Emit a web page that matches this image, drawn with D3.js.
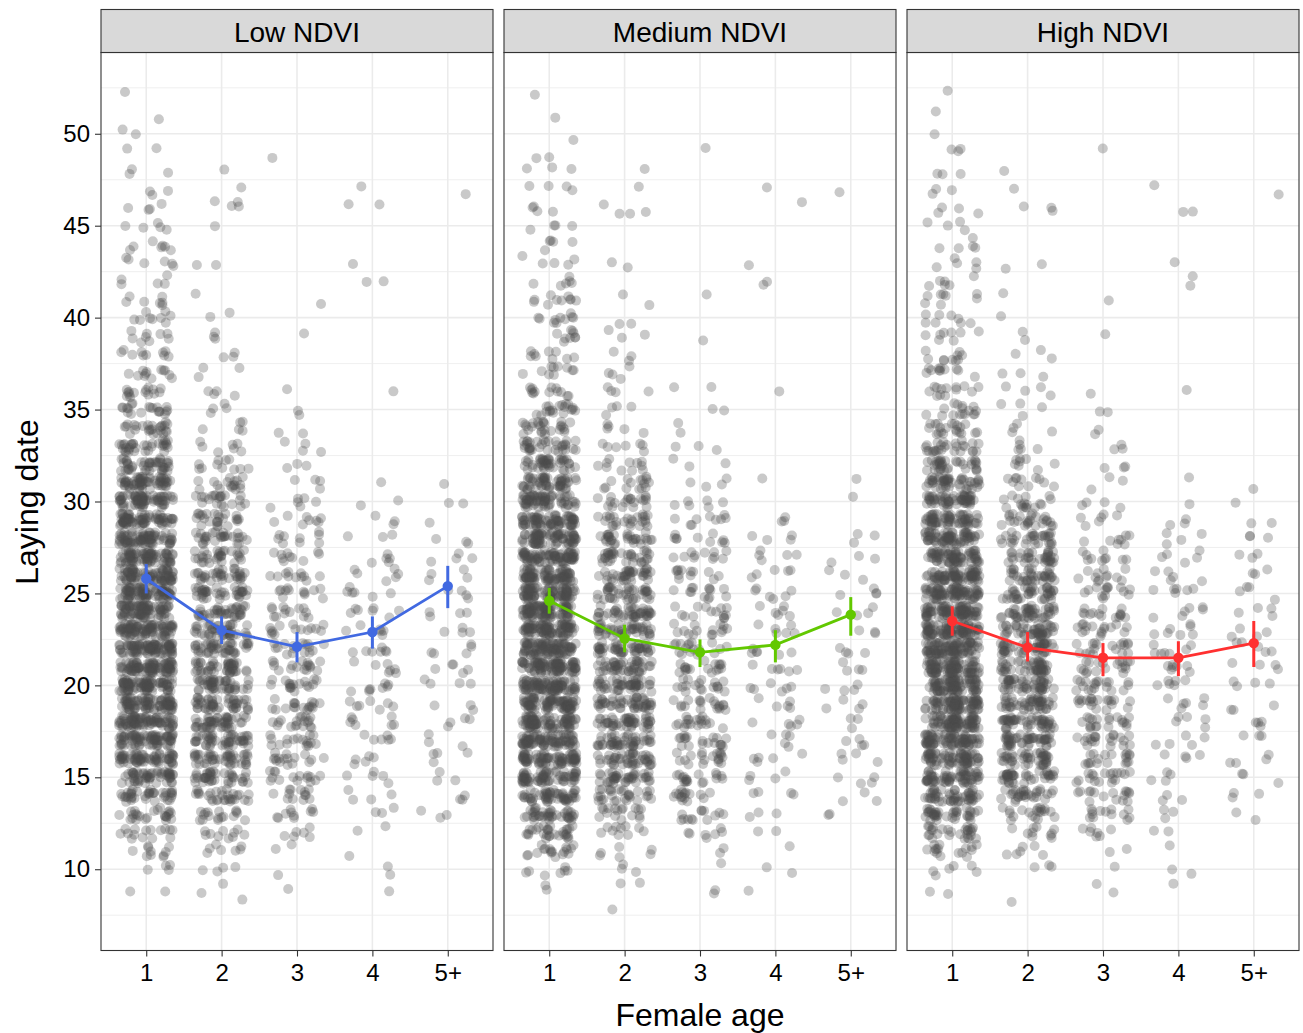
<!DOCTYPE html>
<html>
<head>
<meta charset="utf-8">
<script src="https://cdn.jsdelivr.net/npm/d3@7"></script>
<style>
    body { margin: 0; background: #fff; }
    svg text { font-family: "Liberation Sans", Arial, Helvetica, sans-serif; fill: #000; }
</style>
</head>
<body>
<div id="chart"></div>
<script>
// laying day of each count bin (index i -> days[i])
const days = [8, 9, 10, 11, 12, 13, 14, 15, 16, 17, 18, 19, 20, 21, 22, 23, 24, 25, 26, 27, 28, 29, 30,
    31, 32, 33, 34, 35, 36, 37, 38, 39, 40, 41, 42, 43, 44, 45, 46, 47, 48, 49, 50, 51, 52];
const ageLabels = ["1", "2", "3", "4", "5+"];
const facetNames = ["Low NDVI", "Medium NDVI", "High NDVI"];

// number of nests per laying day
const lowAge1 = [0,2,4,10,15, 25,39,56,70,81, 87,92,95,98,98, 95,92,90,87,84, 81,77,73,64,45, 34,26,20,15,12, 10,9,9,7,5, 6,7,5,4,3, 3,2,2,1,1];
const lowAge2 = [1,2,4,7,10, 17,29,40,46,49, 50,50,49,48,46, 44,40,38,35,31, 29,25,21,17,11, 7,5,4,4,3, 3,3,2,1,0, 2,0,1,4,1, 1,0,0,0,0];
const lowAge3 = [0,1,1,2,6, 10,13,15,16,17, 18,18,18,17,16, 14,13,12,11,10, 9,8,6,4,3, 4,2,2,1,0, 0,1,0,1,0, 0,0,0,0,0, 0,1,0,0,0];
const lowAge4 = [0,1,2,1,2, 3,4,5,5,6, 7,7,8,7,7, 6,7,6,6,5, 3,3,2,1,0, 0,0,0,1,0, 0,0,0,0,2, 1,0,0,2,1, 0,0,0,0,0];
const lowAge5 = [0,0,0,0,0, 3,3,3,4,3, 4,3,4,5,5, 4,4,4,4,4, 3,1,2,1,0, 0,0,0,0,0, 0,0,0,0,0, 0,0,0,0,1, 0,0,0,0,0];

const medAge1 = [0,2,7,18,30, 42,56,70,81,87, 90,92,95,98,98, 98,95,92,90,87, 84,78,70,56,44, 34,26,19,13,10, 9,9,10,10,6, 5,5,4,4,4, 3,2,1,1,1];
const medAge2 = [1,2,3,6,10, 17,29,40,46,49, 50,50,50,49,48, 46,44,40,38,35, 31,26,20,15,11, 7,5,4,4,4, 3,3,2,2,0, 2,0,0,4,1, 1,0,0,0,0];
const medAge3 = [0,2,1,2,7, 13,16,18,19,19, 19,19,18,18,17, 15,14,13,12,11, 10,9,6,4,3, 3,2,2,2,0, 0,1,0,1,0, 0,0,0,0,0, 0,1,0,0,0];
const medAge4 = [0,1,2,1,2, 3,4,4,5,5, 5,5,6,6,6, 6,6,6,5,5, 4,3,0,1,0, 0,0,0,1,0, 0,0,0,0,2, 1,0,0,1,1, 0,0,0,0,0];
const medAge5 = [0,0,0,0,0, 2,3,4,4,4, 3,4,4,4,4, 3,4,4,3,3, 3,0,1,1,0, 0,0,0,0,0, 0,0,0,0,0, 0,0,0,0,1, 0,0,0,0,0];

const highAge1 = [0,2,6,16,28, 39,53,67,77,84, 90,92,95,98,98, 95,92,87,81,77, 73,67,59,48,36, 27,21,16,13,11, 10,8,8,8,6, 5,5,4,4,3, 3,3,1,1,1];
const highAge2 = [1,0,3,6,10, 20,31,40,46,49, 50,51,51,50,49, 48,45,41,38,35, 31,26,17,11,8, 5,4,4,4,3, 3,2,1,1,0, 2,0,0,3,1, 1,0,0,0,0];
const highAge3 = [0,2,1,2,7, 13,16,18,19,20, 20,20,19,19,18, 16,15,14,12,10, 8,6,4,3,3, 3,2,2,1,0, 0,1,0,1,0, 0,0,0,0,0, 0,1,0,0,0];
const highAge4 = [0,1,2,1,2, 3,3,4,4,5, 5,6,6,7,7, 7,6,6,5,5, 4,3,1,1,0, 0,0,0,1,0, 0,0,0,0,2, 1,0,0,2,1, 0,0,0,0,0];
const highAge5 = [0,0,0,0,0, 2,3,3,4,3, 4,3,4,4,5, 4,4,4,3,3, 3,2,1,1,0, 0,0,0,0,0, 0,0,0,0,0, 0,0,0,0,1, 0,0,0,0,0];

// model estimates with confidence limits, per age class
const lowMean = [25.8, 23.0, 22.1, 22.9, 25.4];
const lowLower = [25.0, 22.25, 21.25, 22.0, 24.2];
const lowUpper = [26.6, 23.75, 22.9, 23.75, 26.5];
const medMean = [24.6, 22.55, 21.8, 22.2, 23.85];
const medLower = [23.9, 21.8, 21.0, 21.25, 22.7];
const medUpper = [25.3, 23.3, 22.5, 23.0, 24.8];
const highMean = [23.5, 22.05, 21.5, 21.5, 22.3];
const highLower = [22.7, 21.3, 20.5, 20.5, 21.0];
const highUpper = [24.3, 22.9, 22.3, 22.4, 23.5];

const facetColors = ["#4169E1", "#62C800", "#FF3030"];

let facets = [
    { counts: [lowAge1, lowAge2, lowAge3, lowAge4, lowAge5], mean: lowMean, lower: lowLower, upper: lowUpper },
    { counts: [medAge1, medAge2, medAge3, medAge4, medAge5], mean: medMean, lower: medLower, upper: medUpper },
    { counts: [highAge1, highAge2, highAge3, highAge4, highAge5], mean: highMean, lower: highLower, upper: highUpper }
];
facets.forEach((f, i) => { f.name = facetNames[i]; f.color = facetColors[i]; });

let width = 1303, height = 1033;
let panelLeft = [101, 504, 907], panelWidth = 392;
let panelTop = 52.5, panelBottom = 950.5, stripTop = 9.5;

let svg = d3.select("#chart").append("svg").attr("width", width).attr("height", height);

let y = d3.scaleLinear().domain([5.58, 54.42]).range([panelBottom, panelTop]);

// integer hash -> [0,1), used only to scatter points inside their jitter box
function hash01(n) {
    n = (n ^ 61) ^ (n >>> 16);
    n = n + (n << 3);
    n = n ^ (n >>> 4);
    n = Math.imul(n, 0x27d4eb2d);
    n = n ^ (n >>> 15);
    return (n >>> 0) / 4294967296;
}

function jitterPoints(counts, age, seed) {
    let pts = [];
    let k = 0;
    counts.forEach((c, i) => {
        for (let j = 0; j < c; j++) {
            k++;
            let u = hash01(seed * 7919 + k * 2);
            let v = hash01(seed * 7919 + k * 2 + 1);
            pts.push({ x: age + (u * 2 - 1) * 0.36, y: days[i] + (v * 2 - 1) * 0.35 });
        }
    });
    return pts;
}

facets.forEach((f, i) => {
    let x = d3.scaleLinear().domain([0.4, 5.6]).range([panelLeft[i], panelLeft[i] + panelWidth]);
    let g = svg.append("g");

    g.append("rect").attr("x", panelLeft[i]).attr("y", panelTop).attr("width", panelWidth)
        .attr("height", panelBottom - panelTop).attr("fill", "#fff");

    // grid
    g.selectAll(".minor").data(d3.range(7.5, 54, 5)).join("line").attr("class", "minor")
        .attr("x1", panelLeft[i]).attr("x2", panelLeft[i] + panelWidth)
        .attr("y1", d => y(d)).attr("y2", d => y(d))
        .attr("stroke", "#EBEBEB").attr("stroke-width", 0.8);
    g.selectAll(".major").data(d3.range(10, 55, 5)).join("line").attr("class", "major")
        .attr("x1", panelLeft[i]).attr("x2", panelLeft[i] + panelWidth)
        .attr("y1", d => y(d)).attr("y2", d => y(d))
        .attr("stroke", "#EBEBEB").attr("stroke-width", 1.6);
    g.selectAll(".vgrid").data([1, 2, 3, 4, 5]).join("line").attr("class", "vgrid")
        .attr("x1", d => x(d)).attr("x2", d => x(d))
        .attr("y1", panelTop).attr("y2", panelBottom)
        .attr("stroke", "#EBEBEB").attr("stroke-width", 1.6);

    // raw data clouds
    let pts = [];
    f.counts.forEach((c, a) => { pts = pts.concat(jitterPoints(c, a + 1, i * 10 + a + 1)); });
    g.append("g").selectAll("circle").data(pts).join("circle")
        .attr("cx", d => x(d.x)).attr("cy", d => y(d.y)).attr("r", 5)
        .attr("fill", "#4D4D4D").attr("fill-opacity", 0.3);

    // estimates
    let est = f.mean.map((m, a) => ({ age: a + 1, mean: m, lo: f.lower[a], hi: f.upper[a] }));
    g.append("path").datum(est)
        .attr("d", d3.line().x(d => x(d.age)).y(d => y(d.mean)))
        .attr("fill", "none").attr("stroke", f.color).attr("stroke-width", 2.8);
    g.selectAll(".err").data(est).join("line").attr("class", "err")
        .attr("x1", d => x(d.age)).attr("x2", d => x(d.age))
        .attr("y1", d => y(d.lo)).attr("y2", d => y(d.hi))
        .attr("stroke", f.color).attr("stroke-width", 3);
    g.selectAll(".est").data(est).join("circle").attr("class", "est")
        .attr("cx", d => x(d.age)).attr("cy", d => y(d.mean)).attr("r", 5.2)
        .attr("fill", f.color);

    g.append("rect").attr("x", panelLeft[i]).attr("y", panelTop).attr("width", panelWidth)
        .attr("height", panelBottom - panelTop).attr("fill", "none").attr("stroke", "#333").attr("stroke-width", 1.1);

    // strip
    g.append("rect").attr("x", panelLeft[i]).attr("y", stripTop).attr("width", panelWidth)
        .attr("height", panelTop - stripTop).attr("fill", "#D9D9D9").attr("stroke", "#333").attr("stroke-width", 1.1);
    g.append("text").attr("x", panelLeft[i] + panelWidth / 2).attr("y", 41.5)
        .attr("text-anchor", "middle").style("font-size", "28px").text(f.name);

    // x axis
    let xAxis = g.append("g").attr("transform", "translate(0," + panelBottom + ")")
        .call(d3.axisBottom(x).tickValues([1, 2, 3, 4, 5]).tickFormat((d, j) => ageLabels[j]).tickSize(6).tickPadding(7));
    xAxis.select(".domain").remove();
    xAxis.selectAll(".tick line").attr("stroke", "#333").attr("stroke-width", 1.1);
    xAxis.selectAll("text").style("font-size", "24px").attr("fill", "#000");

    if (i === 0) {
        let yAxis = g.append("g").attr("transform", "translate(" + panelLeft[i] + ",0)")
            .call(d3.axisLeft(y).tickValues(d3.range(10, 55, 5)).tickSize(6).tickPadding(5));
        yAxis.select(".domain").remove();
        yAxis.selectAll(".tick line").attr("stroke", "#333").attr("stroke-width", 1.1);
        yAxis.selectAll("text").style("font-size", "24px").attr("fill", "#000");
    }
});

svg.append("text").attr("x", 700).attr("y", 1026).attr("text-anchor", "middle")
    .style("font-size", "32px").text("Female age");
svg.append("text").attr("transform", "translate(38,502) rotate(-90)").attr("text-anchor", "middle")
    .style("font-size", "32px").text("Laying date");
</script>
</body>
</html>
